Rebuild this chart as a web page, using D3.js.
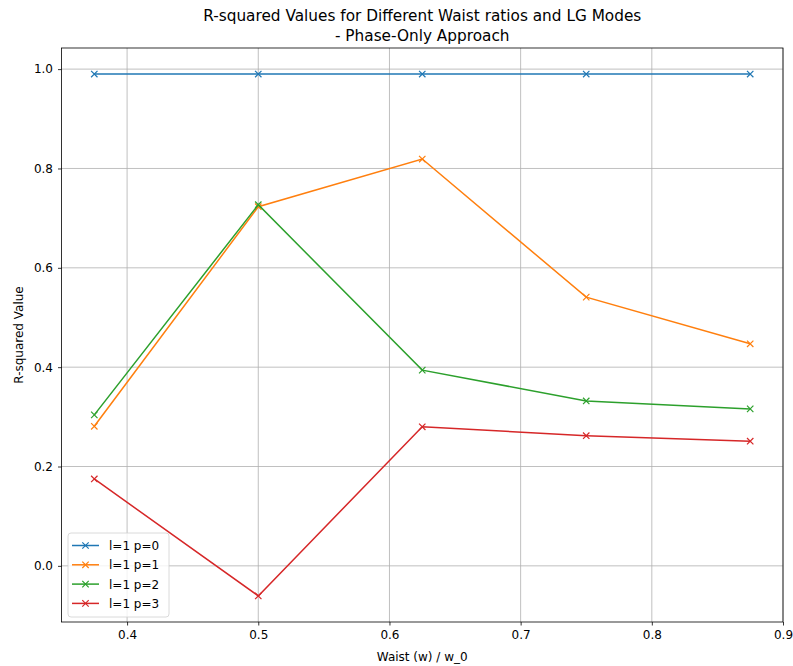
<!DOCTYPE html>
<html>
<head>
<meta charset="utf-8">
<script src="https://cdn.jsdelivr.net/npm/d3@7"></script>
<style>
  html, body { margin: 0; padding: 0; background: #fff; }
  svg { display: block; font-family: "DejaVu Sans", sans-serif; }
</style>
</head>
<body>
<svg id="chart" width="793" height="666"></svg>
<script>
// Waist ratios (w / w_0) sampled
const waistRatios = [0.375, 0.5, 0.625, 0.75, 0.875];

// R-squared per LG mode (l=1, p=0..3)
const seriesNames = ["l=1 p=0", "l=1 p=1", "l=1 p=2", "l=1 p=3"];
const rsqP0 = [0.99, 0.99, 0.99, 0.99, 0.99];
const rsqP1 = [0.281, 0.723, 0.819, 0.541, 0.447];
const rsqP2 = [0.304, 0.727, 0.394, 0.332, 0.316];
const rsqP3 = [0.175, -0.0605, 0.280, 0.262, 0.251];
const seriesValues = [rsqP0, rsqP1, rsqP2, rsqP3];
const seriesColors = ["#1f77b4", "#ff7f0e", "#2ca02c", "#d62728"];

const xTicks = [0.4, 0.5, 0.6, 0.7, 0.8, 0.9];
const yTicks = [0.0, 0.2, 0.4, 0.6, 0.8, 1.0];

const titleLines = ["R-squared Values for Different Waist ratios and LG Modes", "- Phase-Only Approach"];
const xLabel = "Waist (w) / w_0";
const yLabel = "R-squared Value";

const svg = d3.select("#chart");
const plot = { left: 61.5, right: 783, top: 48, bottom: 622 };

// Axis domains padded by 5% as in the usual autoscale
const xMin = d3.min(waistRatios), xMax = d3.max(waistRatios);
const xPad = (xMax - xMin) * 0.05;
const allY = seriesValues.flat();
const yMin = d3.min(allY), yMax = d3.max(allY);
const yPad = (yMax - yMin) * 0.05;

const x = d3.scaleLinear().domain([xMin - xPad, xMax + xPad]).range([plot.left, plot.right]);
const y = d3.scaleLinear().domain([yMin - yPad, yMax + yPad]).range([plot.bottom, plot.top]);

// Grid
const grid = svg.append("g").attr("class", "grid");
grid.selectAll("line.vx").data(xTicks).join("line")
  .attr("x1", d => x(d)).attr("x2", d => x(d))
  .attr("y1", plot.top).attr("y2", plot.bottom)
  .attr("stroke", "#b0b0b0").attr("stroke-width", 0.8);
grid.selectAll("line.hy").data(yTicks).join("line")
  .attr("x1", plot.left).attr("x2", plot.right)
  .attr("y1", d => y(d)).attr("y2", d => y(d))
  .attr("stroke", "#b0b0b0").attr("stroke-width", 0.8);

// Axes
const xAxis = svg.append("g")
  .attr("transform", `translate(0,${plot.bottom})`)
  .call(d3.axisBottom(x).tickValues(xTicks).tickFormat(d3.format(".1f")).tickSizeOuter(0).tickSize(3.5).tickPadding(5));
const yAxis = svg.append("g")
  .attr("transform", `translate(${plot.left},0)`)
  .call(d3.axisLeft(y).tickValues(yTicks).tickFormat(d3.format(".1f")).tickSizeOuter(0).tickSize(3.5).tickPadding(5));
[xAxis, yAxis].forEach(a => {
  a.select(".domain").remove();
  a.selectAll(".tick line").attr("stroke", "#000").attr("stroke-width", 0.8);
  a.selectAll(".tick text").attr("fill", "#000").style("font-size", "12px").style("font-family", "DejaVu Sans, sans-serif");
});

// Frame
svg.append("rect")
  .attr("x", plot.left).attr("y", plot.top)
  .attr("width", plot.right - plot.left).attr("height", plot.bottom - plot.top)
  .attr("fill", "none").attr("stroke", "#000").attr("stroke-width", 0.8);

// Series lines with x markers
const line = d3.line().x((d, i) => x(waistRatios[i])).y(d => y(d));
const ms = 3.2;
const xMarker = (cx, cy) => `M${cx - ms},${cy - ms}L${cx + ms},${cy + ms}M${cx - ms},${cy + ms}L${cx + ms},${cy - ms}`;

seriesValues.forEach((vals, si) => {
  const g = svg.append("g");
  g.append("path").datum(vals)
    .attr("d", line)
    .attr("fill", "none").attr("stroke", seriesColors[si]).attr("stroke-width", 1.5);
  g.selectAll("path.m").data(vals).join("path")
    .attr("class", "m")
    .attr("d", (d, i) => xMarker(x(waistRatios[i]), y(d)))
    .attr("stroke", seriesColors[si]).attr("stroke-width", 1.2).attr("fill", "none");
});

// Title
svg.append("text")
  .attr("x", (plot.left + plot.right) / 2).attr("y", 21)
  .attr("text-anchor", "middle").style("font-size", "15.3px")
  .text(titleLines[0]);
svg.append("text")
  .attr("x", (plot.left + plot.right) / 2).attr("y", 40.5)
  .attr("text-anchor", "middle").style("font-size", "15.3px")
  .text(titleLines[1]);

// Axis labels
svg.append("text")
  .attr("x", (plot.left + plot.right) / 2).attr("y", 661)
  .attr("text-anchor", "middle").style("font-size", "12px")
  .text(xLabel);
svg.append("text")
  .attr("transform", `translate(23,${(plot.top + plot.bottom) / 2}) rotate(-90)`)
  .attr("text-anchor", "middle").style("font-size", "12px")
  .text(yLabel);

// Legend
const legend = svg.append("g").attr("transform", "translate(68,533)");
legend.append("rect")
  .attr("width", 101).attr("height", 84).attr("rx", 3)
  .attr("fill", "#fff").attr("fill-opacity", 0.8)
  .attr("stroke", "#d0d0d0").attr("stroke-width", 0.8);
seriesNames.forEach((name, i) => {
  const cy = 12.5 + i * 19.3;
  legend.append("line")
    .attr("x1", 4).attr("x2", 31).attr("y1", cy).attr("y2", cy)
    .attr("stroke", seriesColors[i]).attr("stroke-width", 1.5);
  legend.append("path")
    .attr("d", xMarker(17.5, cy))
    .attr("stroke", seriesColors[i]).attr("stroke-width", 1.2);
  legend.append("text")
    .attr("x", 41).attr("y", cy + 4.5)
    .style("font-size", "12px")
    .text(name);
});
</script>
</body>
</html>
